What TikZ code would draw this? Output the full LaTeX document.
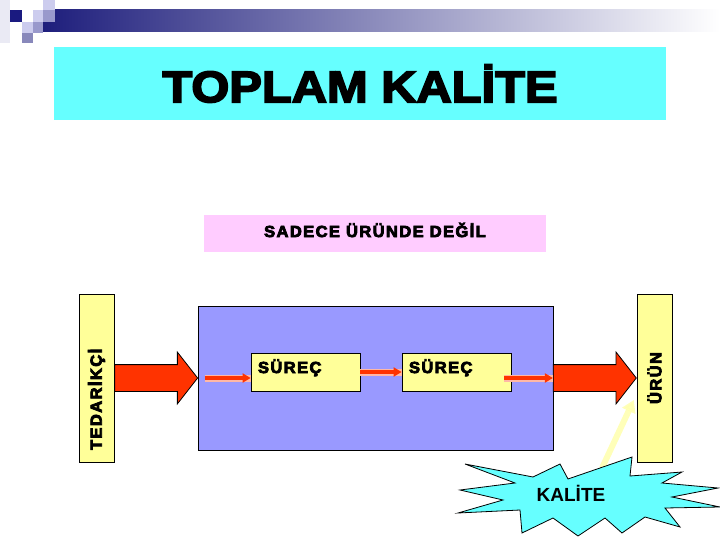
\documentclass[tikz,border=0pt]{standalone}
\usepackage{fontspec}
\setmainfont{Liberation Sans}
\newfontfamily\heavyfont[FakeStretch=1.11,FakeBold=4]{Liberation Sans}
\newfontfamily\spacedfont[FakeStretch=1.03,FakeBold=5,LetterSpace=9]{Liberation Sans}
\usepackage{tikz}
\usetikzlibrary{shapes.arrows, positioning, arrows.meta, calc}
\definecolor{bannerblue}{HTML}{1E1E7C}
\definecolor{bannermid}{HTML}{B4B4CC}
\definecolor{sqnavy}{HTML}{1A1A80}
\definecolor{sqlight}{HTML}{CCCCEE}
\definecolor{sqmid}{HTML}{9999CC}
\definecolor{sqdark}{HTML}{8888BB}
\definecolor{sqpale}{HTML}{EAEAF4}
\definecolor{titlecyan}{HTML}{66FFFF}
\definecolor{notepink}{HTML}{FFCCFF}
\definecolor{sideyellow}{HTML}{FFFF99}
\definecolor{processblue}{HTML}{9999FF}
\definecolor{arrowred}{HTML}{FF3300}
\tikzset{
  titlebox/.style={rectangle, fill=titlecyan, minimum width=612pt, minimum height=73pt, font=\heavyfont\bfseries\fontsize{44}{44}\selectfont},
  notebox/.style={rectangle, fill=notepink, minimum width=342pt, minimum height=37pt, text height=12pt, text depth=5pt, font=\spacedfont\bfseries\fontsize{16}{16}\selectfont},
  sidebox/.style={rectangle, draw=black, fill=sideyellow, rotate=90, minimum width=168pt, minimum height=35pt, font=\spacedfont\bfseries\fontsize{16}{16}\selectfont},
  stepbox/.style={rectangle, draw=black, thick, fill=sideyellow, minimum width=109pt, minimum height=38pt, text width=95pt, inner xsep=7pt, inner ysep=0pt, text height=12pt, text depth=10pt, align=left, font=\spacedfont\bfseries\fontsize{16}{16}\selectfont},
  processbox/.style={rectangle, draw=black, fill=processblue, minimum width=355pt, minimum height=144pt},
  bigarrow/.style={single arrow, draw=black, thick, fill=arrowred, minimum height=83pt, inner xsep=0pt, inner ysep=13pt, text height=0pt, text depth=0pt, single arrow head extend=12.5pt, single arrow tip angle=104, single arrow head indent=0pt},
  smallarrow/.style={-{Triangle[length=8pt,width=9pt]}, line width=3.5pt, arrowred, preaction={draw=arrowred!35, line width=7pt, -}},
  glowarrow/.style={-{Triangle[length=12pt,width=14pt]}, line width=6pt, sideyellow!80, opacity=0.85},
  burst/.style={draw=black, thick, fill=titlecyan}
}
\begin{document}
\begin{tikzpicture}[x=1pt, y=-1pt]
    \useasboundingbox (0,0) rectangle (720,540);
    \shade[left color=bannerblue, middle color=bannermid, right color=white] (43,10) rectangle (720,32);
    \fill[sqpale] (0,0) rectangle (10,43);
    \fill[sqnavy] (10,10) rectangle (22,22);
    \fill[sqlight] (33,10) rectangle (43,22);
    \fill[sqlight] (43,0) rectangle (55,10);
    \fill[sqmid] (43,10) rectangle (55,22);
    \fill[sqlight] (22,22) rectangle (33,33);
    \fill[sqmid] (33,22) rectangle (43,33);
    \fill[sqdark] (22,33) rectangle (33,43);

    \node (title) [titlebox] at (360,83.5) {TOPLAM KALİTE};
    \node (note) [notebox] at (375,233.5) {SADECE ÜRÜNDE DEĞİL};

    \node (tedarikci) [sidebox, text width=144pt, inner xsep=12pt, align=left] at (96.5,378) {TEDARİKÇİ};
    \node (urun) [sidebox, align=center] at (654.5,378) {ÜRÜN};
    \node (process) [processbox] at (375.5,378) {};
    \node (surec1) [stepbox] at (305.5,372) {SÜREÇ};
    \node (surec2) [stepbox] at (456.5,372) {SÜREÇ};

    \node (inarrow) [bigarrow, anchor=west] at (tedarikci.south) {};
    \node (outarrow) [bigarrow, anchor=east] at (urun.north) {};

    \draw [smallarrow] ([xshift=7pt]process.west) -- ([yshift=-6pt]surec1.west);
    \draw [smallarrow] (surec1) -- (surec2);
    \draw [smallarrow] ([xshift=-7pt,yshift=-6pt]surec2.east) -- (outarrow.west);

    \coordinate (glow) at (602,468);
    \coordinate (hit) at ([xshift=-3pt,yshift=-22pt]urun.north);
    \draw [glowarrow] (glow) -- (hit);

    \draw [burst] (460,490) -- (515,483) -- (465,464) -- (533,477) -- (560,464) -- (568,479)
        -- (632,457) -- (630,476) -- (682,472) -- (662,483) -- (718,488) -- (672,497)
        -- (720,507) -- (665,508) -- (680,527) -- (645,517) -- (622,533) -- (605,518)
        -- (578,536) -- (553,518) -- (522,533) -- (520,510) -- (458,513) -- (503,500) -- cycle;
    \node (kalite) [font=\bfseries\fontsize{19}{19}\selectfont] at (571,493) {KALİTE};
\end{tikzpicture}
\end{document}
